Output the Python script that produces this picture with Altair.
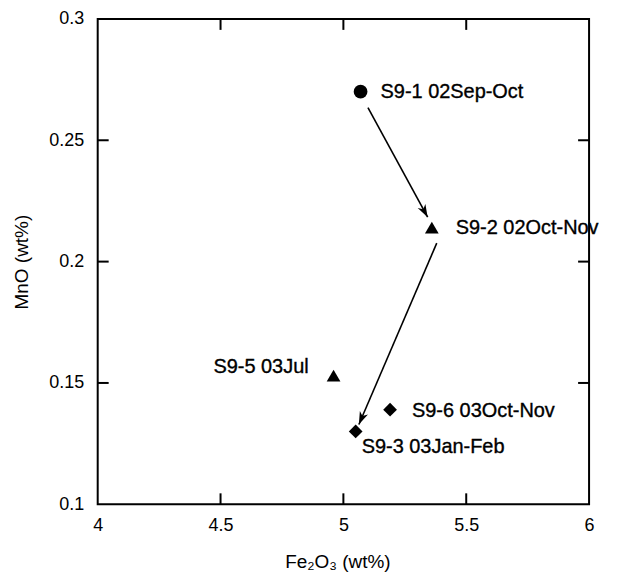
import math
import altair as alt
import pandas as pd

# ---- data ----
samples = ["S9-1 02Sep-Oct", "S9-2 02Oct-Nov", "S9-3 03Jan-Feb", "S9-5 03Jul", "S9-6 03Oct-Nov"]
fe2o3 = [5.07, 5.36, 5.05, 4.96, 5.19]
mno = [0.270, 0.214, 0.130, 0.153, 0.139]

# arrows (annotation start / end, data units)
arrow_x0 = [5.10, 5.38]
arrow_y0 = [0.2634, 0.2076]
arrow_x1 = [5.343, 5.063]
arrow_y1 = [0.2183, 0.1329]

x_ticks = [4, 4.5, 5, 5.5, 6]
y_ticks = [0.1, 0.15, 0.2, 0.25, 0.3]
x_inner = [4.5, 5, 5.5]
y_inner = [0.15, 0.2, 0.25]

# ---- layout / style ----
W, H = 493, 487
FONT = "Liberation Sans"
shapes = ["circle", "triangle-up", "diamond", "triangle-up", "diamond"]
label_pos = {
    "S9-1 02Sep-Oct": (20, 0, "left"),
    "S9-2 02Oct-Nov": (24, 0, "left"),
    "S9-3 03Jan-Feb": (6, 16, "left"),
    "S9-5 03Jul": (-25, -9, "right"),
    "S9-6 03Oct-Nov": (22, 1, "left"),
}

xs = alt.Scale(domain=[4, 6], nice=False, zero=False)
ys = alt.Scale(domain=[0.1, 0.3], nice=False, zero=False)

pts = pd.DataFrame({"sample": samples, "fe": fe2o3, "mn": mno})

points = alt.Chart(pts).mark_point(filled=True, opacity=1, color="black", size=190).encode(
    x=alt.X("fe:Q", scale=xs, title="Fe₂O₃ (wt%)",
            axis=alt.Axis(values=x_ticks, format="~g", grid=False, domain=False, ticks=False,
                          tickSize=0, labelPadding=12, labelFlush=False, labelOverlap=False,
                          labelFontSize=18, labelFont=FONT, labelColor="black",
                          titleFontSize=19, titleFont=FONT, titleFontWeight="normal",
                          titleColor="black", titleX=W / 2 - 6, titleY=57,
                          titleBaseline="middle", titleAlign="center")),
    y=alt.Y("mn:Q", scale=ys, title="MnO (wt%)",
            axis=alt.Axis(values=y_ticks, format="~g", grid=False, domain=False, ticks=False,
                          tickSize=0, labelPadding=14, labelFlush=False, labelOverlap=False,
                          labelFontSize=18, labelFont=FONT, labelColor="black",
                          titleFontSize=19, titleFont=FONT, titleFontWeight="normal",
                          titleColor="black", titleX=-76, titleY=H / 2,
                          titleBaseline="middle", titleAlign="center", titleAngle=270)),
    shape=alt.Shape("sample:N", scale=alt.Scale(domain=samples, range=shapes), legend=None),
)

labels = []
for s in samples:
    dx, dy, al = label_pos[s]
    labels.append(
        alt.Chart(pts).transform_filter(alt.datum.sample == s).mark_text(
            align=al, baseline="middle", dx=dx, dy=dy, fontSize=20, font=FONT, color="black",
            stroke="black", strokeWidth=0.35
        ).encode(x=alt.X("fe:Q", scale=xs), y=alt.Y("mn:Q", scale=ys), text="sample:N")
    )

# arrows
angles = []
for x0, y0, x1, y1 in zip(arrow_x0, arrow_y0, arrow_x1, arrow_y1):
    dxp = (x1 - x0) * W / 2.0
    dyp = -(y1 - y0) * H / 0.2
    angles.append(math.degrees(math.atan2(dxp, -dyp)) % 360)
arr = pd.DataFrame({"x0": arrow_x0, "y0": arrow_y0, "x1": arrow_x1, "y1": arrow_y1, "ang": angles})

arrow_lines = alt.Chart(arr).mark_rule(color="black", strokeWidth=1.6).encode(
    x=alt.X("x0:Q", scale=xs), y=alt.Y("y0:Q", scale=ys), x2="x1:Q", y2="y1:Q"
)
arrow_heads = alt.Chart(arr).mark_point(
    shape="M0,0 L0.55,1.6 L0,1.15 L-0.55,1.6 Z", filled=True, opacity=1, color="black", size=256
).encode(
    x=alt.X("x1:Q", scale=xs), y=alt.Y("y1:Q", scale=ys), angle=alt.Angle("ang:Q", scale=None)
)

# inward ticks on all four sides
TL = 11
xt = pd.DataFrame({"v": x_inner})
yt = pd.DataFrame({"v": y_inner})
tick_b = alt.Chart(xt).mark_rule(color="black", strokeWidth=2).encode(
    x=alt.X("v:Q", scale=xs), y=alt.value(H), y2=alt.value(H - TL))
tick_t = alt.Chart(xt).mark_rule(color="black", strokeWidth=2).encode(
    x=alt.X("v:Q", scale=xs), y=alt.value(0), y2=alt.value(TL))
tick_l = alt.Chart(yt).mark_rule(color="black", strokeWidth=2).encode(
    y=alt.Y("v:Q", scale=ys), x=alt.value(0), x2=alt.value(TL))
tick_r = alt.Chart(yt).mark_rule(color="black", strokeWidth=2).encode(
    y=alt.Y("v:Q", scale=ys), x=alt.value(W), x2=alt.value(W - TL))

chart = alt.layer(
    points, tick_b, tick_t, tick_l, tick_r, arrow_lines, arrow_heads, *labels
).properties(
    width=W, height=H,
    autosize=alt.AutoSizeParams(type="none"),
    padding={"left": 90, "top": 10, "right": 20, "bottom": 75},
    background="white",
).configure_view(stroke="black", strokeWidth=2)

chart.save("out.html", embed_options={"renderer": "svg", "actions": False})
